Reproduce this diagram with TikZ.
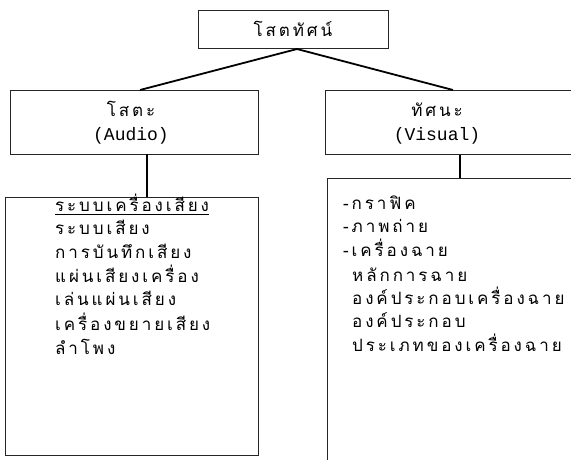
\documentclass[tikz,border=0pt]{standalone}
\usepackage{fontspec}
\newfontfamily\thai[Script=Thai, LetterSpace=17]{Loma}
\newfontfamily\mono{Liberation Mono}
\begin{document}
\begin{tikzpicture}[x=1pt,y=-1pt,
  box/.style={draw=black!85, line width=0.9pt, inner sep=0pt},
  link/.style={draw=black, line width=1.8pt},
  stem/.style={draw=black, line width=1.4pt},
  th/.style={font=\thai\fontsize{17}{20}\selectfont, inner sep=0pt},
  mo/.style={font=\mono\fontsize{18}{20}\selectfont, inner sep=0pt},
  item/.style={th, anchor=base west}]
\useasboundingbox (0,0) rectangle (571,459);
\clip (0,0) rectangle (571,459);
% boxes
\node[box, minimum width=190pt, minimum height=38pt, th] (top) at (293,29) {โสตทัศน์};
\node[box, minimum width=248pt, minimum height=64pt] (lmid) at (134,122) {};
\node[box, minimum width=300pt, minimum height=64pt, anchor=north west] (rmid) at (325,90) {};
\node[box, minimum width=253pt, minimum height=258pt] (lbot) at (131.5,326) {};
\node[box, minimum width=300pt, minimum height=320pt, anchor=north west] (rbot) at (327,178) {};
% headings
\node[th, anchor=base] (lt1) at (131,116) {โสตะ};
\node[mo, anchor=base] (lt2) at (131,140) {(Audio)};
\node[th, anchor=base] (rt1) at (437,116) {ทัศนะ};
\node[mo, anchor=base] (rt2) at (437,140) {(Visual)};
% connector points
\coordinate (apex) at (297,49);
\coordinate (la) at (140,90);
\coordinate (ra) at (453,90);
\draw[link] (apex) -- (la);
\draw[link] (apex) -- (ra);
\draw[stem] (lmid.south -| 147,0) -- (lbot.north -| 147,0);
\draw[stem] (rmid.south -| 460,0) -- (rbot.north -| 460,0);
% left list
\node[item] (l1) at (55,211) {ระบบเครื่องเสียง};
\draw[line width=0.8pt] ([yshift=-3pt]l1.base west) -- ([yshift=-3pt]l1.base east);
\node[item] (l2) at (55,234) {ระบบเสียง};
\node[item] (l3) at (55,258) {การบันทึกเสียง};
\node[item] (l4) at (55,282) {แผ่นเสียงเครื่อง};
\node[item] (l5) at (55,305) {เล่นแผ่นเสียง};
\node[item] (l6) at (55,330) {เครื่องขยายเสียง};
\node[item] (l7) at (55,354) {ลำโพง};
% right list
\node[item] (r1) at (343,209) {-กราฟิค};
\node[item] (r2) at (343,232) {-ภาพถ่าย};
\node[item] (r3) at (343,256) {-เครื่องฉาย};
\node[item] (r4) at (352,281) {หลักการฉาย};
\node[item] (r5) at (352,304) {องค์ประกอบเครื่องฉาย};
\node[item] (r6) at (352,327) {องค์ประกอบ};
\node[item] (r7) at (352,351) {ประเภทของเครื่องฉาย};
\end{tikzpicture}
\end{document}
